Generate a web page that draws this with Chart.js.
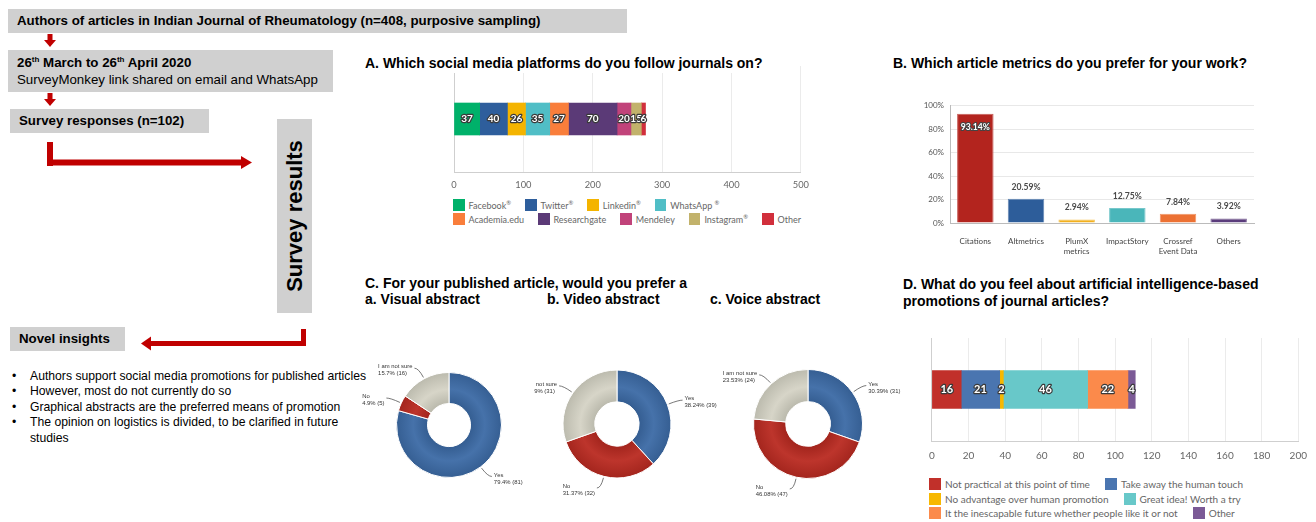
<!DOCTYPE html>
<html><head><meta charset="utf-8">
<script src="https://cdn.jsdelivr.net/npm/chart.js@4.4.1/dist/chart.umd.min.js"></script>
<style>
html,body{margin:0;padding:0;background:#fff;}
body{width:1316px;height:522px;position:relative;overflow:hidden;font-family:"Liberation Sans",Arial,sans-serif;}
.box{position:absolute;background:#d0d0d0;color:#000;font-weight:bold;font-size:13.3px;box-sizing:border-box;padding-left:9px;white-space:nowrap;}
.title{position:absolute;font-weight:bold;font-size:14px;color:#000;line-height:17px;background:#fff;white-space:nowrap;}
canvas{position:absolute;}
.legend{position:absolute;font-family:Lato,sans-serif;color:#666;white-space:nowrap;}
.legend .row{display:flex;align-items:center;}
.legend .item{display:flex;align-items:center;}
.legend .sw{display:inline-block;flex:none;}
.legend .reg{font-size:0.65em;vertical-align:super;line-height:0;}
.bul{position:absolute;left:12px;top:369px;font-size:12.2px;line-height:15.4px;color:#000;}
.bul div{position:relative;padding-left:18px;white-space:nowrap;}
.bul div span{position:absolute;left:0;}
</style></head>
<body>
<!-- flow diagram -->
<div class="box" style="left:8px;top:9px;width:619px;height:24px;line-height:24px;">Authors of articles in Indian Journal of Rheumatology (n=408, purposive sampling)</div>
<div class="box" style="left:8px;top:50px;width:325px;height:42px;line-height:17px;padding-top:4px;">26<sup style="font-size:8px;line-height:0;">th</sup> March to 26<sup style="font-size:8px;line-height:0;">th</sup> April 2020<br><span style="font-weight:normal;">SurveyMonkey link shared on email and WhatsApp</span></div>
<div class="box" style="left:10px;top:109px;width:199px;height:24px;line-height:24px;">Survey responses (n=102)</div>
<div class="box" style="left:277px;top:119px;width:35px;height:194px;padding:0;display:flex;align-items:center;justify-content:center;"><div style="transform:rotate(-90deg);font-size:22px;white-space:nowrap;">Survey results</div></div>
<div class="box" style="left:10px;top:327px;width:115px;height:24px;line-height:24px;">Novel insights</div>
<svg style="position:absolute;left:0;top:0;" width="340" height="360">
  <g fill="#c00000">
    <rect x="47.5" y="34" width="5" height="7"/><polygon points="44,40 56,40 50,47"/>
    <rect x="47.5" y="93" width="5" height="7"/><polygon points="44,99 56,99 50,106"/>
    <rect x="47" y="142" width="6" height="24"/><rect x="47" y="159.5" width="195" height="6"/><polygon points="241,156 252,162.5 241,169"/>
    <rect x="301" y="329" width="5" height="17"/><rect x="150" y="341" width="156" height="5"/><polygon points="151,336.5 141,343.5 151,350.5"/>
  </g>
</svg>
<div class="bul">
  <div><span>•</span>Authors support social media promotions for published articles</div>
  <div><span>•</span>However, most do not currently do so</div>
  <div><span>•</span>Graphical abstracts are the preferred means of promotion</div>
  <div><span>•</span>The opinion on logistics is divided, to be clarified in future<br>studies</div>
</div>

<!-- charts -->
<canvas id="cA" width="372" height="126" style="left:444px;top:66px;"></canvas>
<div class="title" style="left:362px;top:53px;height:20px;line-height:20px;padding:0 3px;">A. Which social media platforms do you follow journals on?</div>
<div class="legend" id="legA" style="left:453px;top:198px;font-size:9px;"></div>

<canvas id="cB" width="350" height="160" style="left:910px;top:95px;"></canvas>
<div class="title" style="left:890px;top:53px;height:20px;line-height:20px;padding:0 3px;">B. Which article metrics do you prefer for your work?</div>

<div class="title" style="left:365px;top:275px;">C. For your published article, would you prefer a</div>
<div class="title" style="left:365px;top:291px;" id="tC0"></div>
<div class="title" style="left:547px;top:291px;" id="tC1"></div>
<div class="title" style="left:710px;top:291px;" id="tC2"></div>
<canvas id="cC0" width="178" height="160" style="left:362px;top:360px;"></canvas>
<canvas id="cC1" width="186" height="160" style="left:534px;top:360px;"></canvas>
<canvas id="cC2" width="190" height="160" style="left:720px;top:360px;"></canvas>

<div class="title" style="left:903px;top:276px;">D. What do you feel about artificial intelligence-based<br>promotions of journal articles?</div>
<canvas id="cD" width="396" height="137" style="left:920px;top:330px;"></canvas>
<div class="legend" id="legD" style="left:929px;top:477px;font-size:10px;"></div>

<script>
// ---------- DATA ----------
const platformNames = ['Facebook®','Twitter®','Linkedin®','WhatsApp ®','Academia.edu','Researchgate','Mendeley','Instagram®','Other'];
const platformCounts = [37,40,26,35,27,70,20,15,6];
const platformColors = ['#00b16a','#2e5e9c','#f4b400','#50bec6','#f97e3b','#5b3a77','#c1437a','#c2b26b','#d12f3c'];
const platformTicks = [0,100,200,300,400,500];
const platformLegendRows = [[0,1,2,3],[4,5,6,7,8]];

const metricLabels = ['Citations','Altmetrics',['PlumX','metrics'],'ImpactStory',['Crossref','Event Data'],'Others'];
const metricPercents = [93.14,20.59,2.94,12.75,7.84,3.92];
const metricColors = ['#b3241e','#2d5d9a','#f2b01e','#4ab6ba','#ec7133','#5a3c7b'];
const metricTicks = [0,10,20,30,40,50,60,70,80,90,100];

const abstractTitles = ['a. Visual abstract','b. Video abstract','c. Voice abstract'];
const abstractResponses = ['Yes','No','I am not sure'];
const visualCounts = [81,5,16];
const videoCounts = [39,32,31];
const voiceCounts = [31,47,24];
const abstractDecimals = [1,2,2];
const abstractColors = ['#3c6ba6','#b92a21','#d5d3c5'];

const aiOpinions = ['Not practical at this point of time','Take away the human touch','No advantage over human promotion','Great idea! Worth a try','It the inescapable future whether people like it or not','Other'];
const aiCounts = [16,21,2,46,22,4];
const aiColors = ['#c1302a','#4a75b0','#f7b800','#68c8c9','#fb8a4b','#7b5a96'];
const aiTicks = [0,20,40,60,80,100,120,140,160,180,200];
const aiLegendRows = [[0,1],[2,3],[4,5]];

// ---------- helpers ----------
function shade(hex, amt){
  const n=parseInt(hex.slice(1),16);
  let r=(n>>16)&255,g=(n>>8)&255,b=n&255;
  const f=v=>Math.max(0,Math.min(255,Math.round(amt<0? v*(1+amt) : v+(255-v)*amt)));
  return `rgb(${f(r)},${f(g)},${f(b)})`;
}
function buildLegend(el, names, colors, rows, sw, gap){
  rows.forEach(r=>{
    const row=document.createElement('div'); row.className='row'; row.style.height=(sw+2.5)+'px';
    r.forEach(i=>{
      const it=document.createElement('div'); it.className='item'; it.style.marginRight=gap+'px';
      const s=document.createElement('span'); s.className='sw'; s.style.width=sw+'px'; s.style.height=sw+'px'; s.style.background=colors[i]; s.style.marginRight='4px';
      const t=document.createElement('span');
      names[i].split('®').forEach((part,j)=>{
        if(j>0){const r=document.createElement('span'); r.className='reg'; r.textContent='®'; t.appendChild(r);}
        t.appendChild(document.createTextNode(part));
      });
      it.appendChild(s); it.appendChild(t); row.appendChild(it);
    });
    el.appendChild(row);
  });
}

const stackLabels = {
  id:'stackLabels',
  afterDatasetsDraw(chart, args, opts){
    const ctx=chart.ctx; ctx.save();
    ctx.font=`bold ${opts.size||10}px Lato, sans-serif`;
    ctx.textAlign='center'; ctx.textBaseline='middle'; ctx.lineJoin='round';
    chart.data.datasets.forEach((ds,i)=>{
      const el=chart.getDatasetMeta(i).data[0];
      const cx=(el.x+el.base)/2, cy=el.y, t=String(ds.data[0]);
      ctx.lineWidth=2.4; ctx.strokeStyle='#3a3a3a'; ctx.strokeText(t,cx,cy);
      ctx.fillStyle='#fff'; ctx.fillText(t,cx,cy);
    });
    ctx.restore();
  }
};

const barValueLabels = {
  id:'barValueLabels',
  afterDatasetsDraw(chart){
    const ctx=chart.ctx; ctx.save();
    ctx.font='bold 8.6px Lato, sans-serif'; ctx.textAlign='center'; ctx.textBaseline='middle'; ctx.lineJoin='round';
    const ds=chart.data.datasets[0];
    chart.getDatasetMeta(0).data.forEach((el,i)=>{
      const t=ds.data[i].toFixed(2)+'%';
      if(ds.data[i]>50){
        ctx.lineWidth=2.2; ctx.strokeStyle='#444'; ctx.strokeText(t,el.x,el.y+13);
        ctx.fillStyle='#fff'; ctx.fillText(t,el.x,el.y+13);
      } else {
        ctx.fillStyle='#4a4a4a'; ctx.fillText(t,el.x,el.y-12);
      }
    });
    ctx.restore();
  }
};

const donutLabels = {
  id:'donutLabels',
  afterDatasetsDraw(chart, args, opts){
    const ctx=chart.ctx; ctx.save();
    const ds=chart.data.datasets[0]; const total=ds.data.reduce((a,b)=>a+b,0);
    ctx.font='5.9px "Liberation Sans", Arial, sans-serif';
    ctx.textAlign='left'; ctx.textBaseline='middle';
    chart.getDatasetMeta(0).data.forEach((arc,i)=>{
      const mid=(arc.startAngle+arc.endAngle)/2, r=arc.outerRadius;
      const c=Math.cos(mid), s=Math.sin(mid);
      const p0=[arc.x+c*(r+1.5), arc.y+s*(r+1.5)];
      const p1=[arc.x+c*(r+12), arc.y+s*(r+12)];
      const side=c>=0?1:-1;
      const p2=[p1[0]+side*4, p1[1]];
      ctx.strokeStyle='#555'; ctx.lineWidth=0.8;
      ctx.beginPath(); ctx.moveTo(p0[0],p0[1]); ctx.quadraticCurveTo(p1[0],p1[1],p2[0],p2[1]); ctx.stroke();
      const v=ds.data[i];
      const l1=chart.data.labels[i];
      const l2=(v/total*100).toFixed(opts.decimals)+'% ('+v+')';
      const w=Math.max(ctx.measureText(l1).width, ctx.measureText(l2).width);
      const x= side>0 ? p2[0]+2 : p2[0]-2-w;
      ctx.fillStyle='#333';
      ctx.fillText(l1,x,p2[1]-1.5); ctx.fillText(l2,x,p2[1]+5.5);
    });
    ctx.restore();
  }
};

function ringColor(base){
  return (c)=>{
    const ch=c.chart, a=ch.chartArea; if(!a) return base;
    const cx=(a.left+a.right)/2, cy=(a.top+a.bottom)/2;
    const R=Math.min(a.right-a.left,a.bottom-a.top)/2;
    const g=ch.ctx.createRadialGradient(cx,cy,R*0.41,cx,cy,R);
    g.addColorStop(0, shade(base,-0.12)); g.addColorStop(0.45, shade(base,0.05)); g.addColorStop(1, shade(base,-0.12));
    return g;
  };
}

Chart.defaults.font.family='Lato, sans-serif';

// ---------- Chart A ----------
new Chart(document.getElementById('cA'), {
  type:'bar',
  data:{labels:[''], datasets: platformNames.map((n,i)=>({label:n, data:[platformCounts[i]], backgroundColor:platformColors[i], borderWidth:0, barThickness:32}))},
  options:{
    indexAxis:'y', responsive:false, animation:false,
    layout:{padding:{left:10,right:12,top:0,bottom:0}},
    plugins:{legend:{display:false}, tooltip:{enabled:false}, stackLabels:{size:10}},
    scales:{
      x:{stacked:true, min:0, max:500,
        afterBuildTicks:s=>{s.ticks=platformTicks.map(v=>({value:v}));},
        grid:{color:c=>(c.tick&&c.tick.value===0)?'#cfcfcf':'#ebebeb', drawTicks:false},
        border:{display:true,color:'#cfcfcf'},
        ticks:{padding:7,color:'#666',font:{size:9.3}},
        afterFit:s=>{s.height=20;}
      },
      y:{stacked:true, display:false}
    }
  },
  plugins:[stackLabels]
});
buildLegend(document.getElementById('legA'), platformNames, platformColors, platformLegendRows, 11.5, 14);

// ---------- Chart B ----------
new Chart(document.getElementById('cB'), {
  type:'bar',
  data:{labels:metricLabels, datasets:[{data:metricPercents, backgroundColor:metricColors, borderColor:metricColors.map(c=>shade(c,0.25)), borderWidth:1, categoryPercentage:0.72, barPercentage:1}]},
  options:{
    responsive:false, animation:false,
    layout:{padding:{left:0,right:6,top:8,bottom:0}},
    plugins:{legend:{display:false}, tooltip:{enabled:false}},
    scales:{
      x:{grid:{display:false}, border:{color:'#bbb'},
        ticks:{color:'#444', font:{size:8}, padding:6, maxRotation:0, autoSkip:false},
        afterFit:s=>{s.height=32;}},
      y:{min:0, max:100,
        afterBuildTicks:s=>{s.ticks=metricTicks.map(v=>({value:v}));},
        ticks:{callback:v=>v%20===0?v+'%':'', color:'#555', font:{size:8}, padding:6},
        grid:{color:'#e8e8e8', drawTicks:false}, border:{color:'#bbb'},
        afterFit:s=>{s.width=40;}}
    }
  },
  plugins:[barValueLabels]
});

// ---------- Chart C (three doughnuts) ----------
const abstractCounts=[visualCounts, videoCounts, voiceCounts];
const donutPads=[{left:34,top:12,right:38,bottom:42},{left:28.5,top:9.5,right:48.5,bottom:41.5},{left:33,top:9,right:47,bottom:41}];
abstractCounts.forEach((counts,k)=>{
  document.getElementById('tC'+k).textContent=abstractTitles[k];
  new Chart(document.getElementById('cC'+k), {
    type:'doughnut',
    data:{labels:abstractResponses, datasets:[{data:counts, backgroundColor:(c)=>ringColor(abstractColors[c.dataIndex])(c), borderColor:'#fff', borderWidth:1}]},
    options:{
      responsive:false, animation:false, cutout:'41%',
      layout:{padding:donutPads[k]},
      plugins:{legend:{display:false}, tooltip:{enabled:false}, donutLabels:{decimals:abstractDecimals[k]}}
    },
    plugins:[donutLabels]
  });
});

// ---------- Chart D ----------
new Chart(document.getElementById('cD'), {
  type:'bar',
  data:{labels:[''], datasets: aiOpinions.map((n,i)=>({label:n, data:[aiCounts[i]], backgroundColor:aiColors[i], borderWidth:0, barThickness:38}))},
  options:{
    indexAxis:'y', responsive:false, animation:false,
    layout:{padding:{left:10,right:8,top:8,bottom:0}},
    plugins:{legend:{display:false}, tooltip:{enabled:false}, stackLabels:{size:11}},
    scales:{
      x:{stacked:true, min:0, max:200,
        afterBuildTicks:s=>{s.ticks=aiTicks.map(v=>({value:v}));},
        grid:{color:c=>(c.tick&&c.tick.value===0)?'#cfcfcf':'#ebebeb', drawTicks:false},
        border:{display:true,color:'#cfcfcf'},
        ticks:{padding:9,color:'#666',font:{size:10}},
        afterFit:s=>{s.height=26;}
      },
      y:{stacked:true, display:false}
    }
  },
  plugins:[stackLabels]
});
buildLegend(document.getElementById('legD'), aiOpinions, aiColors, aiLegendRows, 12, 15);
</script>
</body></html>
